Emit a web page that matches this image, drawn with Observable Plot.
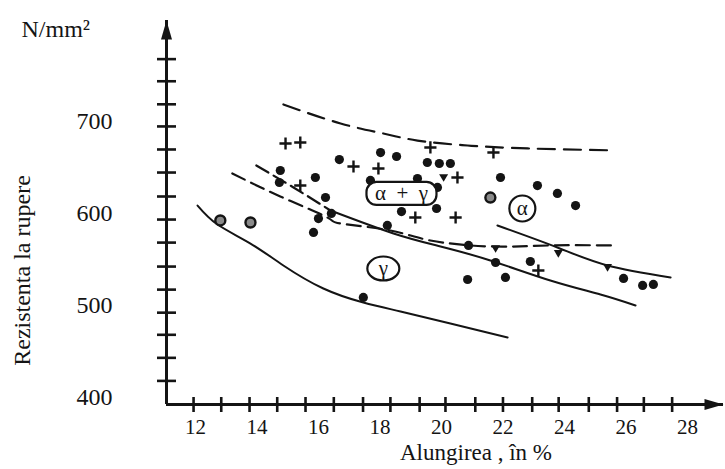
<!DOCTYPE html>
<html>
<head>
<meta charset="utf-8">
<script src="https://cdn.jsdelivr.net/npm/d3@7"></script>
<script src="https://cdn.jsdelivr.net/npm/@observablehq/plot@0.6"></script>
<style>
  html, body { margin: 0; padding: 0; background: #fff; }
  #chart { width: 725px; height: 469px; }
</style>
</head>
<body>
<div id="chart"></div>
<script>
// ---- scale extents (axis corner and arrow tips) ----
const xDomain = [11.06, 29.17];
const yDomain = [392.4, 808.9];

// ---- tick labels ----
const xTickLabels = [12, 14, 16, 18, 20, 22, 24, 26, 28];
const yTickLabels = [400, 500, 600, 700];
// small tick marks drawn across the axes
const xMinorTicks = [11.94, 12.84, 13.76, 14.66, 15.58, 16.5, 17.45, 18.34, 19.29, 20.13, 21.1, 22.0, 22.95, 23.81, 24.79, 25.71, 26.58, 27.5];
const yMinorTicks = [418, 443, 468, 492, 517, 542, 568, 593, 618, 644, 669, 694, 718, 743, 767];

// ---- texts ----
const xTitle = "Alungirea , în %";
const yTitle = "Rezistenta la rupere";
const unitLabel = "N/mm²";

// ---- curves [elongation %, strength N/mm2] ----
const upperDashed = [[14.86, 717.8], [16.72, 697.2], [18.11, 686.3], [19.22, 678.7], [20.85, 673.3], [22.8, 670.1], [25.66, 668]];
const upperBoundDashed = [[13.98, 651.6], [15.19, 627.8], [16.39, 602.8]];
const upperBoundSolid = [[16.39, 602.8], [18.44, 577.9], [19.97, 563.8], [21.59, 548.6], [23.54, 526.9], [25.17, 511.7], [26.31, 499.8]];
const lowerBoundDashed = [[13.2, 643], [14.76, 618], [16.29, 595.2], [16.72, 588.7], [18.34, 581.1], [19.64, 570.3], [21.59, 563.8], [23.54, 564.9], [25.59, 564.9]];
const alphaCurve = [[21.82, 586.6], [23.77, 562.7], [25.4, 543.2], [27.45, 530.2]];
const gammaCurve = [[12.07, 608.2], [12.72, 587.6], [13.79, 567], [14.86, 543.2], [16.16, 518.2], [17.46, 503], [18.67, 493.3], [20.29, 480.3], [22.15, 465.1]];

// ---- measured points ----
const filledPoints = [
  [16.68, 658.1], [14.76, 646.2], [14.73, 633.2], [15.9, 638.6], [16.23, 616.9], [16.0, 594.1],
  [15.84, 579.0], [16.42, 599.6], [18.02, 665.7], [18.54, 661.4], [17.69, 635.4], [19.22, 637.5],
  [19.54, 654.9], [19.93, 653.8], [20.29, 653.8], [19.87, 627.8], [18.7, 601.7], [19.84, 605.0],
  [18.24, 586.6], [21.92, 638.6], [23.12, 629.9], [23.77, 621.3], [24.36, 608.2], [20.88, 564.9],
  [21.76, 546.4], [22.89, 547.5], [20.85, 528.0], [22.08, 530.2], [17.46, 508.5], [25.92, 529.1],
  [26.54, 521.5], [26.89, 522.6]
];
const ringPoints = [[12.81, 592.0], [13.79, 589.8], [21.59, 616.9]];
const plusPoints = [
  [14.93, 675.5], [15.41, 676.6], [17.14, 650.5], [17.95, 648.4], [19.64, 671.2], [21.69, 665.7],
  [20.52, 638.6], [15.41, 629.9], [19.15, 595.2], [20.46, 595.2], [23.15, 537.7]
];
const trianglePoints = [[20.07, 638.6], [21.76, 561.6], [23.8, 556.2], [25.4, 541.0]];

// ---- region labels ----
const regionNames = ["α\u2002+\u2002γ", "α", "γ"];
const regionX = [18.70, 22.63, 18.11];
const regionY = [621.3, 605.0, 539.9];
const regionShape = ["box", "circle", "ellipse"];

// ---- custom symbols ----
const symHLine = {draw(ctx, size) { const r = Math.sqrt(size / Math.PI); ctx.moveTo(-r, 0); ctx.lineTo(r, 0); }};
const symVLine = {draw(ctx, size) { const r = Math.sqrt(size / Math.PI); ctx.moveTo(0, -r); ctx.lineTo(0, r); }};
const symArrowUp = {draw(ctx) { ctx.moveTo(0, 0); ctx.lineTo(5.5, 19); ctx.lineTo(-5.5, 19); ctx.closePath(); }};
const symArrowRight = {draw(ctx) { ctx.moveTo(0, 0); ctx.lineTo(-19, 5.5); ctx.lineTo(-19, -5.5); ctx.closePath(); }};
const symTriDown = {draw(ctx, size) { const r = Math.sqrt(size / Math.PI); ctx.moveTo(-r, -r * 0.75); ctx.lineTo(r, -r * 0.75); ctx.lineTo(0, r * 0.95); ctx.closePath(); }};
const symBox = {draw(ctx) {
  const w = 35, h = 11.5, rr = 10;
  ctx.moveTo(-w + rr, -h);
  ctx.lineTo(w - rr, -h); ctx.arcTo(w, -h, w, -h + rr, rr);
  ctx.lineTo(w, h - rr); ctx.arcTo(w, h, w - rr, h, rr);
  ctx.lineTo(-w + rr, h); ctx.arcTo(-w, h, -w, h - rr, rr);
  ctx.lineTo(-w, -h + rr); ctx.arcTo(-w, -h, -w + rr, -h, rr);
  ctx.closePath();
}};
const symCircle = {draw(ctx) { ctx.moveTo(13, 0); ctx.arc(0, 0, 13, 0, 2 * Math.PI); ctx.closePath(); }};
const symEllipse = {draw(ctx) {
  const rx = 16, ry = 12, k = 0.5523;
  ctx.moveTo(rx, 0);
  ctx.bezierCurveTo(rx, ry * k, rx * k, ry, 0, ry);
  ctx.bezierCurveTo(-rx * k, ry, -rx, ry * k, -rx, 0);
  ctx.bezierCurveTo(-rx, -ry * k, -rx * k, -ry, 0, -ry);
  ctx.bezierCurveTo(rx * k, -ry, rx, -ry * k, rx, 0);
  ctx.closePath();
}};
const shapeSymbols = {box: symBox, circle: symCircle, ellipse: symEllipse};

const regions = regionNames.map((name, i) => ({name, x: regionX[i], y: regionY[i], shape: regionShape[i]}));
const ink = "#141414";
const serif = "'Liberation Serif', 'Times New Roman', serif";

const px = d => d[0], py = d => d[1];

const chart = Plot.plot({
  width: 725,
  height: 469,
  marginLeft: 166,
  marginRight: 2,
  marginTop: 20,
  marginBottom: 65,
  x: {domain: xDomain},
  y: {domain: yDomain},
  style: {fontFamily: serif, fontSize: "24px", color: ink, background: "white"},
  marks: [
    // curves
    Plot.line(upperDashed, {x: px, y: py, curve: "natural", stroke: ink, strokeWidth: 2.2, strokeDasharray: "17,9"}),
    Plot.line(upperBoundDashed, {x: px, y: py, curve: "natural", stroke: ink, strokeWidth: 2.2, strokeDasharray: "14,6"}),
    Plot.line(upperBoundSolid, {x: px, y: py, curve: "natural", stroke: ink, strokeWidth: 2}),
    Plot.line(lowerBoundDashed, {x: px, y: py, curve: "natural", stroke: ink, strokeWidth: 2.2, strokeDasharray: "14,7"}),
    Plot.line(alphaCurve, {x: px, y: py, curve: "natural", stroke: ink, strokeWidth: 2}),
    Plot.line(gammaCurve, {x: px, y: py, curve: "natural", stroke: ink, strokeWidth: 2}),

    // points
    Plot.dot(filledPoints, {x: px, y: py, r: 4.6, fill: ink, stroke: "none"}),
    Plot.dot(ringPoints, {x: px, y: py, r: 5, fill: "#8a8a8a", stroke: ink, strokeWidth: 2.4}),
    Plot.dot(plusPoints, {x: px, y: py, symbol: "plus", r: 4, stroke: ink, strokeWidth: 2.4}),
    Plot.dot(trianglePoints, {x: px, y: py, symbol: symTriDown, r: 4.5, fill: ink, stroke: "none"}),

    // region labels
    Plot.dot(regions, {x: "x", y: "y", symbol: d => shapeSymbols[d.shape], fill: "white", stroke: ink, strokeWidth: 2.2}),
    Plot.text(regions, {x: "x", y: "y", text: "name", fontSize: 21, fill: ink, fontFamily: serif}),

    // axes lines
    Plot.ruleX([xDomain[0]], {stroke: ink, strokeWidth: 3}),
    Plot.ruleY([yDomain[0]], {stroke: ink, strokeWidth: 3}),
    Plot.dot([[xDomain[0], yDomain[1]]], {x: px, y: py, symbol: symArrowUp, fill: ink, stroke: "none", r: 5}),
    Plot.dot([[xDomain[1], yDomain[0]]], {x: px, y: py, symbol: symArrowRight, fill: ink, stroke: "none", r: 5}),

    // tick marks crossing axes
    Plot.dot(yMinorTicks, {x: () => xDomain[0], y: d => d, symbol: symHLine, r: 9.5, stroke: ink, strokeWidth: 2.6, fill: "none"}),
    Plot.dot(xMinorTicks, {x: d => d, y: () => yDomain[0], symbol: symVLine, r: 7.5, stroke: ink, strokeWidth: 2.6, fill: "none"}),

    // tick labels
    Plot.axisY(yTickLabels, {tickSize: 0, tickPadding: 54, fontSize: 24, label: null}),
    Plot.axisX(xTickLabels, {tickSize: 0, tickPadding: 15, fontSize: 21, label: null}),

    // titles
    Plot.text([xTitle], {frameAnchor: "bottom", textAnchor: "middle", lineAnchor: "middle", dx: 31, dy: 48, fontSize: 23, fill: ink}),
    Plot.text([yTitle], {frameAnchor: "left", textAnchor: "middle", lineAnchor: "middle", rotate: -90, dx: -144, dy: 58, fontSize: 24, fill: ink}),
    Plot.text([unitLabel], {frameAnchor: "top-left", textAnchor: "start", lineAnchor: "middle", dx: -145, dy: 9, fontSize: 24, fill: ink})
  ]
});

document.getElementById("chart").appendChild(chart);
</script>
</body>
</html>
